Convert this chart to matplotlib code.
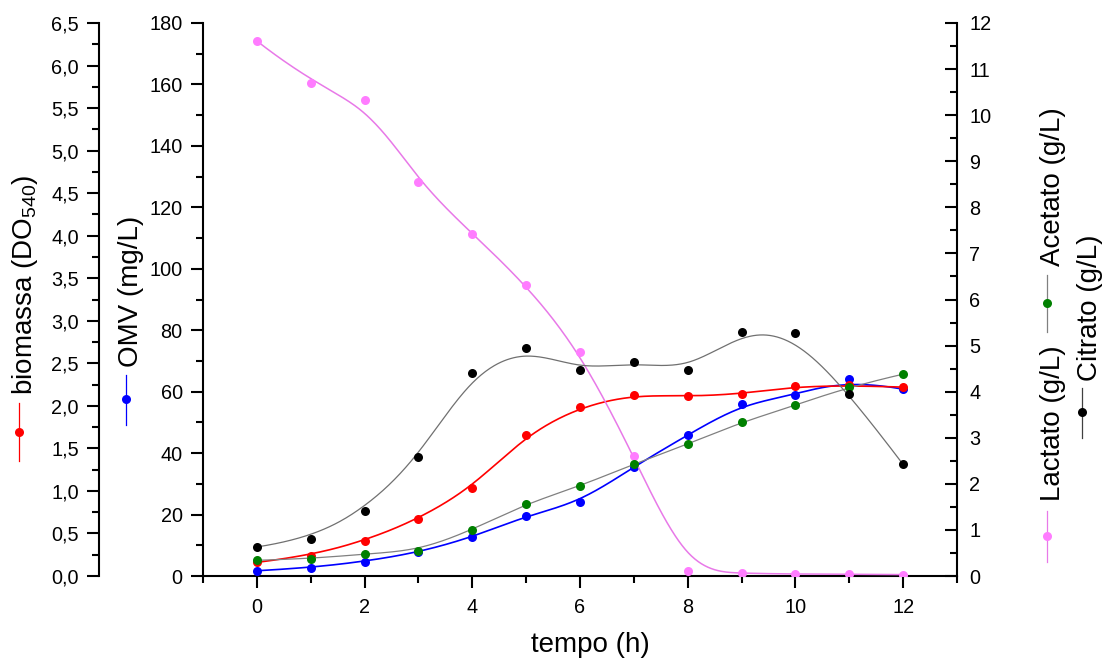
import numpy as np
import matplotlib
matplotlib.use("Agg")
import matplotlib.pyplot as plt
from matplotlib.lines import Line2D
from matplotlib.ticker import MultipleLocator, FuncFormatter

# ---------------- data ----------------
tempo = [0, 1, 2, 3, 4, 5, 6, 7, 8, 9, 10, 11, 12]
biomassa = [0.16, 0.24, 0.41, 0.67, 1.04, 1.66, 1.99, 2.13, 2.11, 2.14, 2.23, 2.24, 2.22]
omv = [1.7, 2.7, 4.7, 7.7, 12.6, 19.6, 24.0, 35.6, 45.9, 55.9, 58.9, 64.0, 60.8]
lactato = [11.61, 10.70, 10.32, 8.55, 7.43, 6.32, 4.87, 2.60, 0.11, 0.06, 0.04, 0.04, 0.03]
acetato = [0.34, 0.375, 0.48, 0.55, 1.00, 1.57, 1.95, 2.43, 2.86, 3.34, 3.70, 4.11, 4.38]
citrato = [0.63, 0.81, 1.42, 2.58, 4.40, 4.94, 4.47, 4.64, 4.47, 5.29, 5.27, 3.96, 2.42]

label_x = "tempo (h)"
label_bio = "biomassa (DO$_{540}$)"
label_omv = "OMV (mg/L)"
label_lac = "Lactato (g/L)"
label_ace = "Acetato (g/L)"
label_cit = "Citrato (g/L)"

plt.rcParams['font.family'] = ['Liberation Sans', 'DejaVu Sans']
plt.rcParams['mathtext.fontset'] = 'custom'
plt.rcParams['mathtext.rm'] = 'Liberation Sans'
plt.rcParams['mathtext.default'] = 'regular'

W, H = 1105, 664
fig = plt.figure(figsize=(W / 100, H / 100), dpi=100)

L, R, B, T = 203, 957, 576, 23
ax = fig.add_axes([L / W, 1 - B / H, (R - L) / W, (B - T) / H])
ax_bio = ax.twinx()
ax_r = ax.twinx()


def bspline(xs, ys, n=500, k=3):
    P = np.column_stack([np.asarray(xs, float), np.asarray(ys, float)])
    m = len(P)
    knots = np.concatenate([np.zeros(k), np.arange(m - k + 1), np.full(k, m - k)]).astype(float)
    t = np.linspace(0, m - k, n)
    N = np.zeros((n, len(knots) - 1))
    for i in range(len(knots) - 1):
        N[:, i] = (knots[i] <= t) & (t < knots[i + 1])
    last = np.where(knots[:-1] < knots[1:])[0][-1]
    N[t >= knots[-1], :] = 0
    N[t >= knots[-1], last] = 1
    for d in range(1, k + 1):
        Nn = np.zeros((n, len(knots) - 1 - d))
        for i in range(len(knots) - 1 - d):
            a = knots[i + d] - knots[i]
            b = knots[i + d + 1] - knots[i + 1]
            term = np.zeros(n)
            if a > 0:
                term += (t - knots[i]) / a * N[:, i]
            if b > 0:
                term += (knots[i + d + 1] - t) / b * N[:, i + 1]
            Nn[:, i] = term
        N = Nn
    C = N @ P
    return C[:, 0], C[:, 1]


def series(axis, ys, lc, mc, lw):
    cx, cy = bspline(tempo, ys)
    axis.plot(cx, cy, color=lc, lw=lw, zorder=2)
    axis.plot(tempo, ys, 'o', color=mc, ms=6.5, mec='none', zorder=3)


series(ax_bio, biomassa, '#ff0000', '#ff0000', 1.2)
series(ax, omv, '#0000ff', '#0000ff', 1.2)
series(ax_r, lactato, '#e879e8', '#ff7cff', 1.1)
series(ax_r, acetato, '#808080', '#008000', 0.9)
series(ax_r, citrato, '#707070', '#000000', 0.9)

comma = FuncFormatter(lambda v, p: f"{v:.1f}".replace('.', ','))

# x axis
ax.set_xlim(-1, 13)
ax.xaxis.set_major_locator(MultipleLocator(2))
ax.xaxis.set_minor_locator(MultipleLocator(1))

# OMV axis
ax.set_ylim(0, 180)
ax.yaxis.set_major_locator(MultipleLocator(20))
ax.yaxis.set_minor_locator(MultipleLocator(10))

# biomassa axis
ax_bio.set_ylim(0, 6.5)
ax_bio.yaxis.set_major_locator(MultipleLocator(0.5))
ax_bio.yaxis.set_minor_locator(MultipleLocator(0.25))
ax_bio.yaxis.set_major_formatter(comma)
ax_bio.yaxis.tick_left()
ax_bio.spines['left'].set_position(('outward', (L - 99) * 0.72))

# right axis
ax_r.set_ylim(0, 12)
ax_r.yaxis.set_major_locator(MultipleLocator(1))
ax_r.yaxis.set_minor_locator(MultipleLocator(0.5))

for a in (ax, ax_bio, ax_r):
    for s in a.spines.values():
        s.set_visible(False)
        s.set_linewidth(1.5)
ax.spines['left'].set_visible(True)
ax.spines['bottom'].set_visible(True)
ax_bio.spines['left'].set_visible(True)
ax_r.spines['right'].set_visible(True)

ax.tick_params(axis='both', which='major', direction='out', length=8.6, width=1.5, labelsize=14.3, pad=6)
ax.tick_params(axis='both', which='minor', direction='out', length=5, width=1.5)
ax.tick_params(axis='x', pad=7)
ax_bio.tick_params(axis='y', which='major', direction='out', length=8.6, width=1.5, labelsize=14.3, pad=6,
                   left=True, right=False, labelleft=True, labelright=False)
ax_bio.tick_params(axis='y', which='minor', direction='out', length=5, width=1.5, left=True, right=False)
ax_r.tick_params(axis='y', which='major', direction='in', length=8.6, width=1.5, labelsize=14.3, pad=9)
ax_r.tick_params(axis='y', which='minor', direction='in', length=5, width=1.5)

# ---------------- axis titles with legend symbols ----------------
FS = 20


def vtext(xb, ystart, s):
    fig.text(xb / W, 1 - ystart / H, s, rotation=90, rotation_mode='anchor',
             ha='left', va='baseline', fontsize=FS)


def symbol(x, y1, y2, lc, mc, yd=None):
    if yd is None:
        yd = (y1 + y2) / 2
    fig.add_artist(Line2D([x / W, x / W], [1 - y1 / H, 1 - y2 / H], transform=fig.transFigure,
                          color=lc, lw=0.9))
    fig.add_artist(Line2D([x / W], [1 - yd / H], transform=fig.transFigure, marker='o',
                          ms=6.5, color=mc, mec='none', lw=0))


vtext(32, 395, label_bio)
symbol(19, 403, 461, '#ff0000', '#ff0000', 432)

vtext(138, 367, label_omv)
symbol(126, 375, 425, '#0000ff', '#0000ff', 399)

vtext(1060, 501, label_lac)
symbol(1047, 511, 562, '#e879e8', '#ff7cff', 536)
symbol(1047, 275, 332, '#808080', '#008000', 303)
vtext(1060, 266, label_ace)

symbol(1082, 388, 438, '#404040', '#000000', 412)
vtext(1097, 381, label_cit)

fig.text(590 / W, 1 - 645 / H, label_x, ha='center', va='center', fontsize=FS)

fig.savefig("out.png", dpi=100)
